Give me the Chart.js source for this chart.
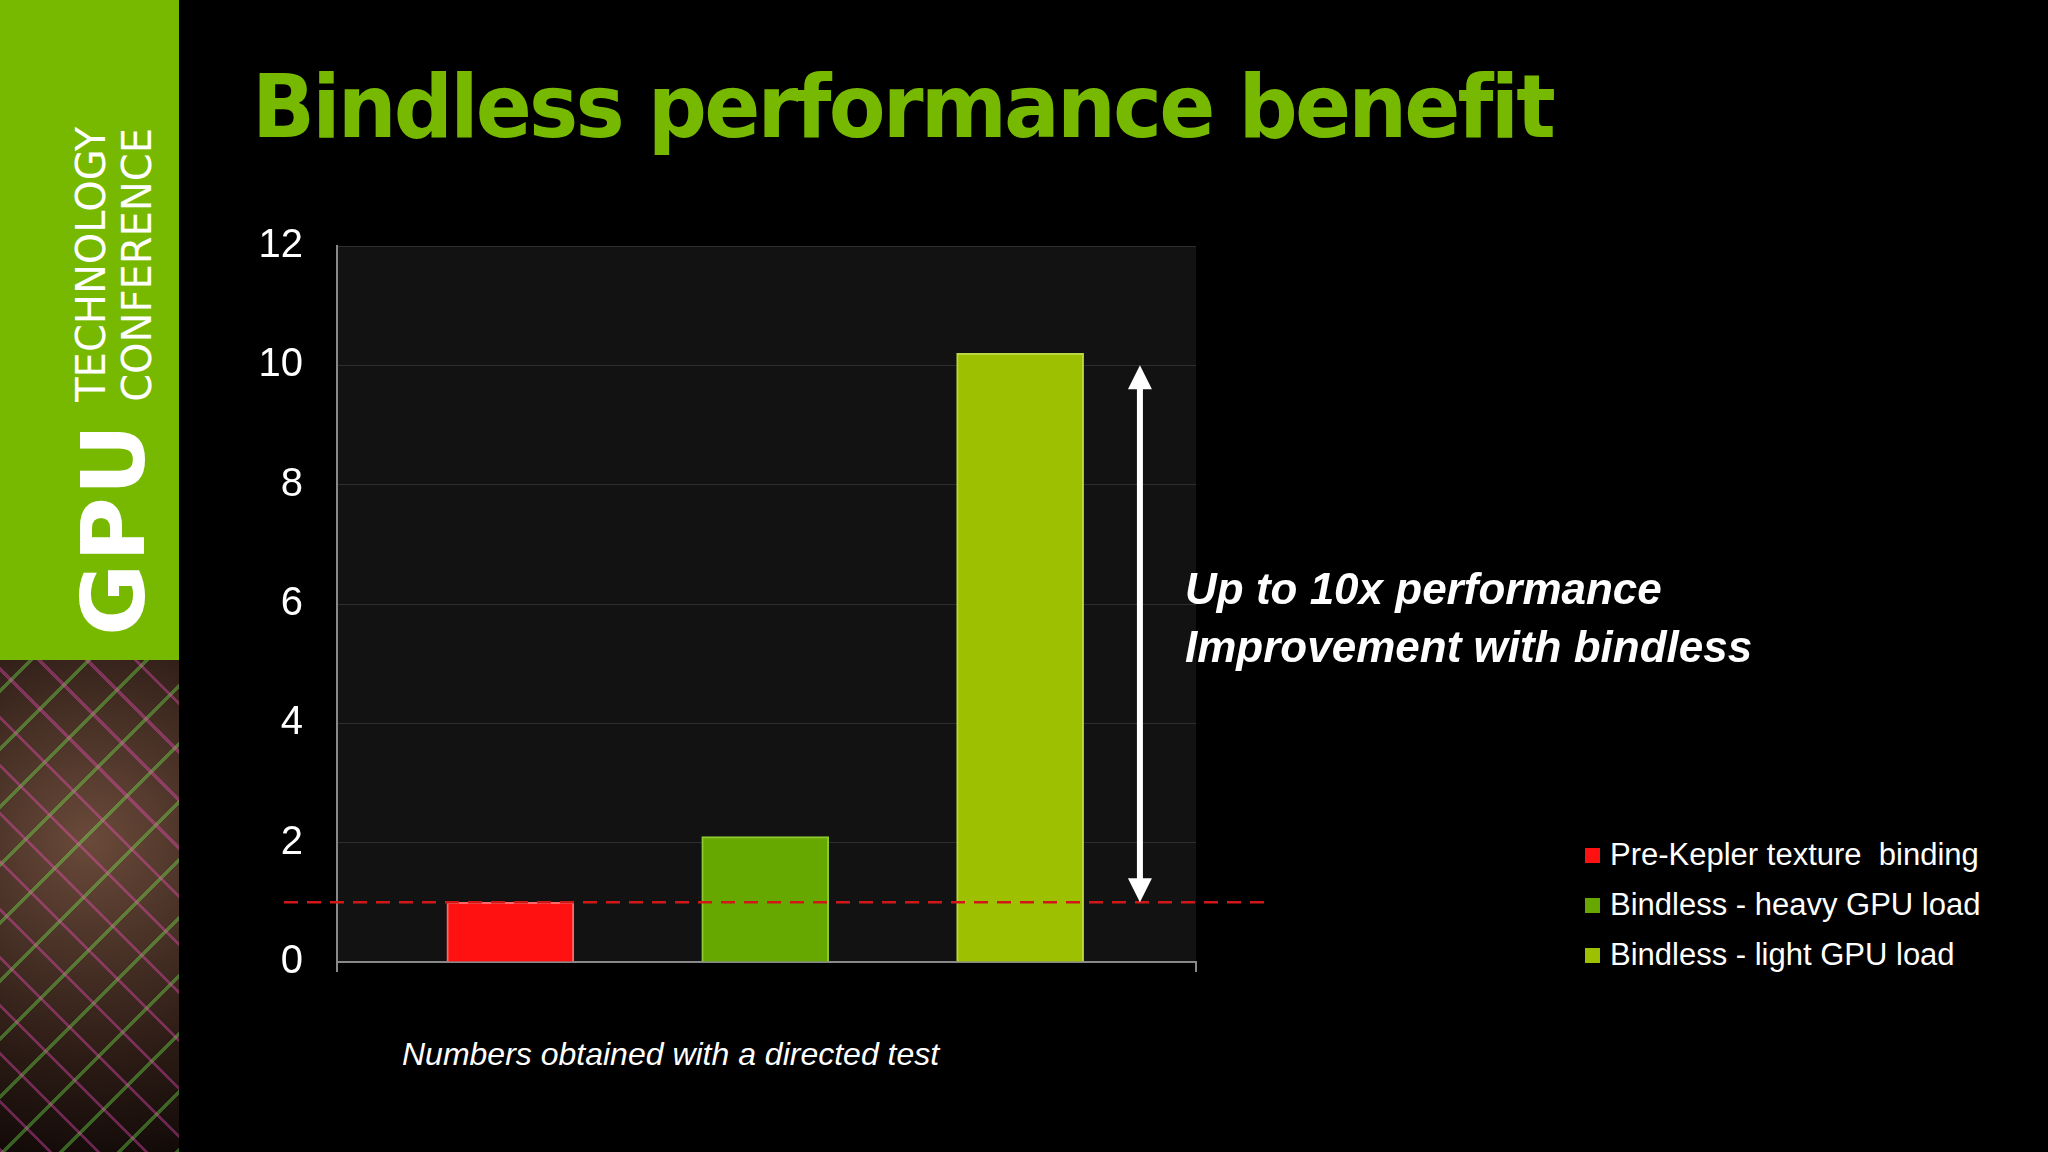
<!DOCTYPE html>
<html>
<head>
<meta charset="utf-8">
<script src="https://cdn.jsdelivr.net/npm/chart.js@4"></script>
<style>
  body { margin: 0; width: 2048px; height: 1152px; background: #000; overflow: hidden; position: relative; font-family: "Liberation Sans", Arial, sans-serif; }
  #side { position: absolute; left: 0; top: 0; width: 179px; height: 660px; background: #76b900; }
  #chip { position: absolute; left: 0; top: 660px; width: 179px; height: 492px;
    background:
      repeating-linear-gradient(45deg, rgba(255,80,200,0.35) 0 3px, transparent 3px 34px),
      repeating-linear-gradient(-45deg, rgba(120,255,80,0.35) 0 3px, transparent 3px 41px),
      radial-gradient(circle at 90px 180px, #6a4a3a, #2a1a14 70%, #120a08); }
  #brand { position: absolute; left: 62px; top: 636px; transform: rotate(-90deg); transform-origin: 0 0; color: #fff; white-space: nowrap; display: flex; align-items: center; }
  #brand .gpu { font-family: "DejaVu Sans"; font-weight: bold; font-size: 88px; letter-spacing: 2px; }
  #brand .tc { font-family: "DejaVu Sans"; font-size: 40px; line-height: 46px; margin-left: 20px; }
  #title { position: absolute; left: 252px; top: 55px; color: #76b900; font-family: "DejaVu Sans"; font-weight: bold; font-size: 88px; letter-spacing: -3px; transform: scaleX(0.94); transform-origin: 0 0; white-space: nowrap; }
  #c { position: absolute; left: 225px; top: 188px; }
  #note { position: absolute; left: 1185px; top: 560px; color: #fff; font-style: italic; font-weight: bold; font-size: 44px; line-height: 58px; }
  #foot { position: absolute; left: 402px; top: 1036px; color: #fff; font-style: italic; font-size: 32px; }
  #legend { position: absolute; left: 1585px; top: 830px; color: #fff; font-size: 31px; white-space: pre; }
  #legend div { height: 50px; display: flex; align-items: center; }
  #legend span { display: inline-block; width: 15px; height: 15px; margin-right: 10px; }
</style>
</head>
<body>
<div id="side"></div>
<div id="chip"></div>
<div id="brand"><span class="gpu">GPU</span><span class="tc">TECHNOLOGY<br>CONFERENCE</span></div>
<div id="title">Bindless performance benefit</div>
<canvas id="c" width="1072" height="832"></canvas>
<div id="note">Up to 10x performance<br>Improvement with bindless</div>
<div id="foot">Numbers obtained with a directed test</div>
<div id="legend"></div>
<script>
const seriesNames = ['Pre-Kepler texture  binding', 'Bindless - heavy GPU load', 'Bindless - light GPU load'];
const seriesValues = [1.0, 2.1, 10.2];
const barPositions = [0.68, 1.68, 2.68];
const seriesColors = ['#ff1111', '#66a800', '#9dc000'];
const yTicks = [0, 2, 4, 6, 8, 10, 12];
const baseline = 1;
const arrowTop = 10;

document.getElementById('legend').innerHTML = seriesNames.map((n, i) =>
  `<div><span style="background:${seriesColors[i]}"></span>${n}</div>`).join('');

const overlay = {
  id: 'overlay',
  afterDatasetsDraw(chart) {
    const ctx = chart.ctx, y = chart.scales.y, x = chart.scales.x;
    const yb = y.getPixelForValue(baseline);
    ctx.save();
    ctx.strokeStyle = '#d01818';
    ctx.lineWidth = 2.5;
    ctx.setLineDash([14, 9]);
    ctx.beginPath();
    ctx.moveTo(chart.chartArea.left - 53, yb);
    ctx.lineTo(chart.chartArea.right + 68, yb);
    ctx.stroke();
    ctx.setLineDash([]);
    const ax = x.getPixelForValue(3.15);
    const yt = y.getPixelForValue(arrowTop);
    ctx.strokeStyle = '#fff'; ctx.fillStyle = '#fff'; ctx.lineWidth = 6;
    ctx.beginPath(); ctx.moveTo(ax, yt + 20); ctx.lineTo(ax, yb - 20); ctx.stroke();
    ctx.beginPath(); ctx.moveTo(ax, yt); ctx.lineTo(ax - 12, yt + 24); ctx.lineTo(ax + 12, yt + 24); ctx.fill();
    ctx.beginPath(); ctx.moveTo(ax, yb); ctx.lineTo(ax - 12, yb - 24); ctx.lineTo(ax + 12, yb - 24); ctx.fill();
    ctx.strokeStyle = '#888'; ctx.lineWidth = 2;
    const a = chart.chartArea;
    [a.left, a.right].forEach(px => { ctx.beginPath(); ctx.moveTo(px, a.bottom); ctx.lineTo(px, a.bottom + 10); ctx.stroke(); });
    ctx.restore();
  },
  beforeDraw(chart) {
    const a = chart.chartArea;
    chart.ctx.fillStyle = '#121212';
    chart.ctx.fillRect(a.left, a.top, a.right - a.left, a.bottom - a.top);
  }
};

new Chart(document.getElementById('c'), {
  type: 'bar',
  data: {
    datasets: [{
      data: seriesValues.map((v, i) => ({ x: barPositions[i], y: v })),
      backgroundColor: seriesColors,
      borderColor: ['#ff6666', '#8cc830', '#bcd840'],
      borderWidth: 2,
      barThickness: 127
    }]
  },
  options: {
    responsive: false, animation: false, devicePixelRatio: 1,
    layout: { padding: { top: 30, right: 101, bottom: 0 } },
    plugins: { legend: { display: false }, tooltip: { enabled: false } },
    scales: {
      x: {
        type: 'linear', min: 0, max: 3.37, offset: false,
        ticks: { display: false },
        grid: { display: false },
        border: { color: '#888', width: 2 },
        afterFit: s => { s.height = 40; }
      },
      y: {
        min: 0, max: 12,
        afterBuildTicks: s => { s.ticks = yTicks.map(v => ({ value: v })); },
        ticks: { color: '#fff', font: { size: 40, family: 'Liberation Sans' }, padding: 34 },
        grid: { color: '#2e2e2e', drawTicks: false },
        border: { color: '#888', width: 2 },
        afterFit: s => { s.width = 112; }
      }
    }
  },
  plugins: [overlay]
});
</script>
</body>
</html>
